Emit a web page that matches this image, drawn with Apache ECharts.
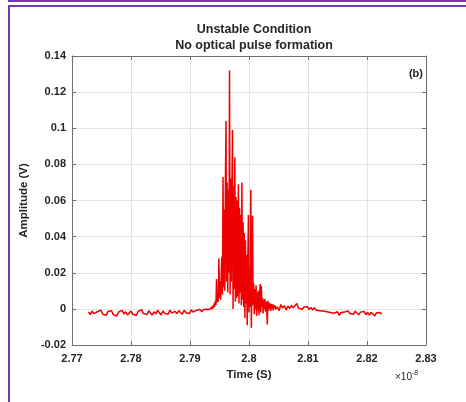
<!DOCTYPE html>
<html>
<head>
<meta charset="utf-8">
<script src="https://cdn.jsdelivr.net/npm/echarts@6/dist/echarts.min.js"></script>
<style>
  html, body { margin: 0; padding: 0; background: #fff; }
  #chart { width: 466px; height: 402px; }
</style>
</head>
<body>
<div id="chart"></div>
<script>
// time in units of 1e-8 s, amplitude in V
const preTrigger = [
  [2.7728, -0.0017], [2.7731, -0.0032], [2.7734, -0.0012], [2.7737, -0.0026], [2.7740, -0.0037],
  [2.7743, -0.0016], [2.7746, -0.0023], [2.7749, -0.0007], [2.7752, -0.0030], [2.7755, -0.0019],
  [2.7758, -0.0035], [2.7761, -0.0014], [2.7764, -0.0025], [2.7767, -0.0010], [2.7770, -0.0032],
  [2.7773, -0.0021], [2.7776, -0.0039], [2.7779, -0.0017], [2.7782, -0.0026], [2.7785, -0.0008],
  [2.7788, -0.0028], [2.7791, -0.0016], [2.7794, -0.0034], [2.7797, -0.0023], [2.7800, -0.0012],
  [2.7803, -0.0030], [2.7806, -0.0019], [2.7809, -0.0037], [2.7812, -0.0014], [2.7815, -0.0025],
  [2.7818, -0.0005], [2.7821, -0.0026], [2.7824, -0.0017], [2.7827, -0.0032], [2.7830, -0.0010],
  [2.7833, -0.0023], [2.7836, -0.0035], [2.7839, -0.0016], [2.7842, -0.0028], [2.7845, -0.0008],
  [2.7848, -0.0021], [2.7851, -0.0034], [2.7854, -0.0012], [2.7857, -0.0025], [2.7860, -0.0017],
  [2.7863, -0.0030], [2.7866, -0.0007], [2.7869, -0.0023], [2.7872, -0.0032], [2.7875, -0.0014],
  [2.7878, -0.0026], [2.7881, -0.0010], [2.7884, -0.0019], [2.7887, -0.0030], [2.7890, -0.0008],
  [2.7893, -0.0021], [2.7896, -0.0014], [2.7899, -0.0026], [2.7902, -0.0005], [2.7905, -0.0017],
  [2.7908, -0.0025], [2.7911, -0.0008], [2.7914, -0.0019], [2.7917, -0.0003], [2.7920, -0.0016],
  [2.7923, -0.0004], [2.7926, -0.0012], [2.7929, -0.0002]
];

const pulse = [
  [2.7932, -0.0012], [2.7933, -0.0004], [2.7934, -0.0015], [2.7935, 0.0002], [2.7936, -0.0008],
  [2.7937, 0.0010], [2.7938, -0.0002], [2.7939, 0.0018], [2.7940, 0.0006], [2.7941, 0.0030],
  [2.7942, 0.0012], [2.7943, 0.0045], [2.7944, 0.0022], [2.7945, 0.0165], [2.7946, 0.0035],
  [2.7947, 0.0090], [2.7948, 0.0040], [2.7949, 0.0280], [2.7950, 0.0060], [2.7951, 0.0150],
  [2.7952, 0.0050], [2.7953, 0.0200], [2.7954, 0.0290], [2.7955, 0.0080], [2.7956, 0.0730],
  [2.7957, 0.0120], [2.7958, 0.0550], [2.7959, 0.0100], [2.7960, 0.0680], [2.7961, 0.1040],
  [2.7962, 0.0150], [2.7963, 0.0700], [2.7964, 0.0090], [2.7965, 0.0660], [2.7966, 0.0200],
  [2.7967, 0.1320], [2.7968, 0.0080], [2.7969, 0.0720], [2.7970, 0.0150], [2.7971, 0.0650],
  [2.7972, 0.0990], [2.7973, 0.0000], [2.7974, 0.0680], [2.7975, 0.0110], [2.7976, 0.0840],
  [2.7977, 0.0040], [2.7978, 0.0620], [2.7979, 0.0060], [2.7980, 0.0600], [2.7981, 0.0070],
  [2.7982, 0.0690], [2.7983, 0.0030], [2.7984, 0.0560], [2.7985, 0.0090], [2.7986, 0.0520],
  [2.7987, 0.0020], [2.7988, 0.0700], [2.7989, 0.0050], [2.7990, 0.0480], [2.7991, 0.0010],
  [2.7992, 0.0420], [2.7993, -0.0050], [2.7994, 0.0380], [2.7995, 0.0030], [2.7996, 0.0300],
  [2.7997, -0.0090], [2.7998, 0.0250], [2.7999, 0.0520], [2.8000, -0.0020], [2.8001, 0.0220],
  [2.8002, 0.0010], [2.8003, 0.0660], [2.8004, -0.0105], [2.8005, 0.0180], [2.8006, 0.0515],
  [2.8007, 0.0020], [2.8008, 0.0140], [2.8009, -0.0030], [2.8010, 0.0110], [2.8011, 0.0000],
  [2.8012, 0.0130], [2.8013, -0.0040], [2.8014, 0.0090], [2.8015, -0.0010], [2.8016, 0.0100],
  [2.8017, -0.0035], [2.8018, 0.0080], [2.8019, 0.0137], [2.8020, -0.0020], [2.8021, 0.0126],
  [2.8022, 0.0010], [2.8023, 0.0060], [2.8024, -0.0025], [2.8025, 0.0050], [2.8026, 0.0000],
  [2.8027, 0.0055], [2.8028, -0.0015], [2.8029, 0.0040], [2.8030, 0.0005], [2.8031, -0.0086],
  [2.8032, 0.0045], [2.8033, -0.0010], [2.8034, 0.0035], [2.8035, 0.0000], [2.8036, 0.0030],
  [2.8037, -0.0012], [2.8038, 0.0028], [2.8039, 0.0002], [2.8040, 0.0025], [2.8041, -0.0008],
  [2.8042, 0.0022], [2.8043, 0.0004], [2.8044, 0.0020], [2.8045, -0.0002]
];

const tail = [
  [2.8048, 0.0012], [2.8051, -0.0010], [2.8054, 0.0024], [2.8057, 0.0004], [2.8060, 0.0018],
  [2.8063, -0.0006], [2.8066, 0.0015], [2.8069, 0.0002], [2.8072, 0.0020], [2.8075, 0.0006],
  [2.8078, 0.0016], [2.8081, 0.0030], [2.8084, 0.0004], [2.8087, 0.0014], [2.8090, -0.0002],
  [2.8093, 0.0010], [2.8096, 0.0001], [2.8099, 0.0012], [2.8102, -0.0004], [2.8105, 0.0008],
  [2.8108, -0.0006], [2.8111, 0.0006], [2.8114, -0.0008], [2.8117, 0.0003], [2.8120, -0.0010],
  [2.8123, 0.0000], [2.8126, -0.0012], [2.8129, -0.0004], [2.8132, -0.0016], [2.8135, -0.0008],
  [2.8138, -0.0020], [2.8141, -0.0012], [2.8144, -0.0024], [2.8147, -0.0032], [2.8150, -0.0016],
  [2.8153, -0.0036], [2.8156, -0.0020], [2.8159, -0.0030], [2.8162, -0.0017], [2.8165, -0.0028],
  [2.8168, -0.0012], [2.8171, -0.0026], [2.8174, -0.0016], [2.8177, -0.0030], [2.8180, -0.0013],
  [2.8183, -0.0024], [2.8186, -0.0033], [2.8189, -0.0018], [2.8192, -0.0028], [2.8195, -0.0014],
  [2.8198, -0.0032], [2.8201, -0.0020], [2.8204, -0.0035], [2.8207, -0.0019], [2.8210, -0.0029],
  [2.8213, -0.0038], [2.8216, -0.0022], [2.8219, -0.0033], [2.8222, -0.0020], [2.8225, -0.0029]
];

const xTickLabels = ['2.77', '2.78', '2.79', '2.8', '2.81', '2.82', '2.83'];
const yTickLabels = ['-0.02', '0', '0.02', '0.04', '0.06', '0.08', '0.1', '0.12', '0.14'];

const FONT = 'Liberation Sans, Arial, Helvetica, sans-serif';
const AXIS_COLOR = '#6e6e6e';
const TEXT_COLOR = '#262626';
const PURPLE = '#7638b6';

const chart = echarts.init(document.getElementById('chart'), null, { renderer: 'canvas' });

const baseTick = { show: true, inside: true, length: 4, lineStyle: { color: AXIS_COLOR, width: 1 } };
const baseLine = { show: true, onZero: false, lineStyle: { color: AXIS_COLOR, width: 1 } };

chart.setOption({
  backgroundColor: '#fff',
  animation: false,
  textStyle: { fontFamily: FONT },
  title: {
    text: 'Unstable Condition\nNo optical pulse formation',
    left: 249,
    top: 17,
    textAlign: 'center',
    textStyle: { fontFamily: FONT, fontSize: 12.5, fontWeight: 'bold', color: TEXT_COLOR, lineHeight: 16 }
  },
  grid: { left: 72, top: 56, width: 354, height: 289, containLabel: false },
  xAxis: [
    {
      type: 'value',
      min: 2.77,
      max: 2.83,
      interval: 0.01,
      position: 'bottom',
      axisLine: baseLine,
      axisTick: baseTick,
      axisLabel: {
        margin: 8,
        fontSize: 11,
        fontWeight: 'bold',
        color: TEXT_COLOR,
        fontFamily: FONT,
        formatter: (v, i) => xTickLabels[i]
      },
      splitLine: { show: true, lineStyle: { color: '#e4e4e4', width: 1 } },
      name: 'Time (S)',
      nameLocation: 'middle',
      nameGap: 24,
      nameTextStyle: { fontSize: 11.5, fontWeight: 'bold', color: TEXT_COLOR, fontFamily: FONT }
    },
    {
      type: 'value',
      min: 2.77,
      max: 2.83,
      interval: 0.01,
      position: 'top',
      axisLine: baseLine,
      axisTick: baseTick,
      axisLabel: { show: false },
      splitLine: { show: false }
    }
  ],
  yAxis: [
    {
      type: 'value',
      min: -0.02,
      max: 0.14,
      interval: 0.02,
      position: 'left',
      axisLine: baseLine,
      axisTick: baseTick,
      axisLabel: {
        margin: 6,
        fontSize: 11,
        fontWeight: 'bold',
        color: TEXT_COLOR,
        fontFamily: FONT,
        formatter: (v, i) => yTickLabels[i]
      },
      splitLine: { show: true, lineStyle: { color: '#e4e4e4', width: 1 } },
      name: 'Amplitude (V)',
      nameLocation: 'middle',
      nameGap: 37,
      nameRotate: 90,
      nameTextStyle: { fontSize: 11.5, fontWeight: 'bold', color: TEXT_COLOR, fontFamily: FONT }
    },
    {
      type: 'value',
      min: -0.02,
      max: 0.14,
      interval: 0.02,
      position: 'right',
      axisLine: baseLine,
      axisTick: baseTick,
      axisLabel: { show: false },
      splitLine: { show: false }
    }
  ],
  series: [
    {
      type: 'line',
      xAxisIndex: 0,
      yAxisIndex: 0,
      showSymbol: false,
      symbol: 'none',
      sampling: false,
      lineStyle: { color: '#ee0000', width: 1.5 },
      data: preTrigger.concat(pulse, tail)
    }
  ],
  graphic: [
    // purple page frame
    { type: 'rect', shape: { x: 8, y: 0, width: 458, height: 2 }, style: { fill: PURPLE } },
    { type: 'rect', shape: { x: 8, y: 5, width: 458, height: 2 }, style: { fill: PURPLE } },
    { type: 'rect', shape: { x: 8, y: 5, width: 2, height: 397 }, style: { fill: PURPLE } },
    {
      type: 'text',
      x: 423,
      y: 74,
      style: {
        text: '(b)',
        font: 'bold 11px ' + FONT,
        fill: TEXT_COLOR,
        align: 'right',
        verticalAlign: 'middle'
      }
    },
    {
      type: 'text',
      x: 395,
      y: 377,
      style: {
        text: '×10{sup|-8}',
        font: '10px ' + FONT,
        fill: TEXT_COLOR,
        align: 'left',
        verticalAlign: 'middle',
        rich: {
          sup: { fontSize: 7, fontFamily: FONT, verticalAlign: 'top', padding: [0, 0, 7, 0], fill: TEXT_COLOR }
        }
      }
    }
  ]
});
</script>
</body>
</html>
